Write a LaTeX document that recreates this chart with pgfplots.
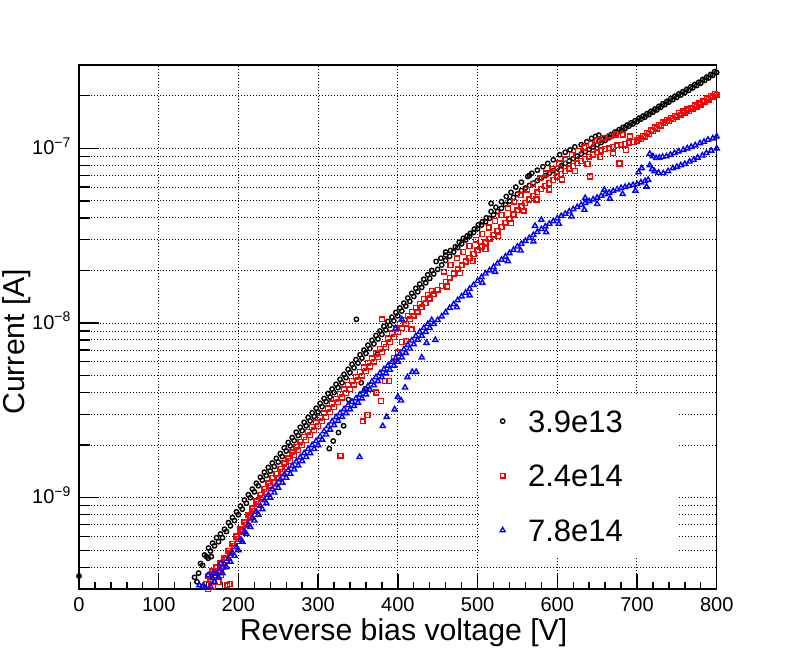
\documentclass[border=0pt]{standalone}
\usepackage{fontspec}
\setmainfont{Liberation Sans}
\usepackage{pgfplots}
\pgfplotsset{compat=1.18}
\begin{document}
\begin{tikzpicture}
\path[use as bounding box] (-39.5pt,-33pt) rectangle (359pt,294.5pt);
\begin{axis}[
  at={(0,0)}, anchor=south west,
  scale only axis, width=318.85pt, height=262pt,
  xmin=0, xmax=800, ymode=log, ymin=3e-10, ymax=3e-7,
  xtick={0,100,...,800}, minor x tick num=4,
  ytick={1e-9,1e-8,1e-7},
  yticklabels={10\textsuperscript{−9},10\textsuperscript{−8},10\textsuperscript{−7}},
  minor ytick={4e-10,5e-10,6e-10,7e-10,8e-10,9e-10,2e-9,3e-9,4e-9,5e-9,6e-9,7e-9,8e-9,9e-9,2e-8,3e-8,4e-8,5e-8,6e-8,7e-8,8e-8,9e-8,2e-7},
  tick pos=left, tick align=inside,
  major tick length=7.5pt, minor tick length=3.7pt,
  xmajorgrids, ymajorgrids, yminorgrids,
  grid style={black, line width=0.5pt, dash pattern=on 0.5pt off 1pt},
  axis line style={line width=0.7pt},
  tick style={black, line width=0.7pt},
  /pgf/number format/assume math mode=true,
  tick label style={font=\fontsize{10}{12}\selectfont},
  xticklabel style={anchor=north, inner sep=0pt, yshift=-3.85pt},
  yticklabel style={anchor=base east, inner sep=0pt, xshift=-3.6pt, yshift=-3pt},
  xlabel={Reverse bias voltage [V]}, ylabel={Current [A]},
  label style={font=\fontsize{15.1}{18}\selectfont},
  xlabel style={at={(axis description cs:0.509,-0.0973)}, anchor=base},
  ylabel style={at={(axis description cs:-0.0856,0.472)}, anchor=base},
  legend cell align=left,
  legend image code/.code={\draw[#1] plot coordinates {(0pt,0pt)};},
  legend style={at={(axis description cs:0.6285,0.3721)}, anchor=north west,
    draw=none, fill=white, font=\fontsize{15.5}{18}\selectfont,
    inner xsep=10pt, inner ysep=7.8pt, row sep=16.2pt,
    nodes={inner sep=0pt, text height=11.1pt, text depth=0pt},
    /tikz/every odd column/.append style={column sep=11.4pt}},
]
% ---------------- 3.9e13 (black circles)
\addplot[only marks, black, mark=o, mark size=1.1pt, mark options={solid, line width=0.7pt}] coordinates {
(150,3.7e-10)(155,4.1e-10)(160,4.6e-10)(165,4.95e-10)(170,5.3e-10)(175,5.6e-10)(180,5.9e-10)(185,6.4e-10)(190,6.9e-10)(195,7.4e-10)
(200,8.0e-10)(205,8.6e-10)(210,9.3e-10)(215,1.0e-9)(220,1.08e-9)(225,1.17e-9)(230,1.26e-9)(235,1.34e-9)(240,1.42e-9)(245,1.51e-9)
(250,1.6e-9)(255,1.72e-9)(260,1.85e-9)(265,1.98e-9)(270,2.12e-9)(275,2.27e-9)(280,2.42e-9)(285,2.58e-9)(290,2.75e-9)(295,2.92e-9)
(300,3.1e-9)(305,3.32e-9)(310,3.55e-9)(315,3.77e-9)(320,4.0e-9)(325,4.27e-9)(330,4.55e-9)(335,4.87e-9)(340,5.2e-9)(345,5.54e-9)
(350,5.9e-9)(355,6.3e-9)(360,6.7e-9)(365,7.14e-9)(370,7.6e-9)(375,8.1e-9)(380,8.6e-9)(385,9.14e-9)(390,9.7e-9)(395,1.03e-8)
(400,1.1e-8)(405,1.17e-8)(410,1.25e-8)(415,1.33e-8)(420,1.42e-8)(425,1.51e-8)(430,1.6e-8)(435,1.7e-8)(440,1.8e-8)(445,1.91e-8)
(450,2.03e-8)(455,2.15e-8)(460,2.28e-8)(465,2.41e-8)(470,2.55e-8)(475,2.7e-8)(480,2.84e-8)(485,2.99e-8)(490,3.14e-8)(495,3.3e-8)
(500,3.47e-8)(505,3.64e-8)(510,3.8e-8)(515,3.98e-8)(520,4.16e-8)(525,4.35e-8)(530,4.54e-8)(535,4.76e-8)(540,4.99e-8)(545,5.23e-8)
(550,5.48e-8)(555,5.74e-8)(560,5.93e-8)(565,6.13e-8)(570,6.33e-8)(575,6.54e-8)(580,6.76e-8)(585,6.98e-8)(590,7.2e-8)(595,7.45e-8)
(600,7.7e-8)(605,7.95e-8)(610,8.2e-8)(615,8.47e-8)(620,8.74e-8)(625,9.02e-8)(630,9.29e-8)(635,9.58e-8)(640,9.87e-8)(645,1.02e-7)
(650,1.05e-7)(655,1.08e-7)(660,1.11e-7)(665,1.15e-7)(670,1.18e-7)(675,1.22e-7)(680,1.26e-7)(685,1.3e-7)(690,1.34e-7)(695,1.38e-7)
(700,1.42e-7)(705,1.47e-7)(710,1.51e-7)(715,1.56e-7)(720,1.61e-7)(725,1.66e-7)(730,1.72e-7)(735,1.78e-7)(740,1.84e-7)(745,1.9e-7)
(750,1.96e-7)(755,2.02e-7)(760,2.08e-7)(765,2.15e-7)(770,2.22e-7)(775,2.29e-7)(780,2.36e-7)(785,2.45e-7)(790,2.53e-7)(795,2.62e-7)(800,2.72e-7)
(152.5,4.2e-10)(157.5,4.7e-10)(162.5,5.15e-10)(167.5,5.5e-10)(172.5,5.9e-10)(177.5,6.2e-10)(182.5,6.6e-10)(187.5,7.2e-10)(192.5,7.7e-10)(197.5,8.3e-10)
(202.5,8.95e-10)(207.5,9.7e-10)(212.5,1.04e-9)(217.5,1.12e-9)(222.5,1.21e-9)(227.5,1.31e-9)(232.5,1.4e-9)(237.5,1.49e-9)(242.5,1.58e-9)(247.5,1.68e-9)
(252.5,1.79e-9)(257.5,1.93e-9)(262.5,2.07e-9)(267.5,2.21e-9)(272.5,2.37e-9)(277.5,2.53e-9)(282.5,2.7e-9)(287.5,2.88e-9)(292.5,3.06e-9)(297.5,3.25e-9)
(302.5,3.47e-9)(307.5,3.7e-9)(312.5,3.95e-9)(317.5,4.19e-9)(322.5,4.46e-9)(327.5,4.76e-9)(332.5,5.08e-9)(337.5,5.43e-9)(342.5,5.8e-9)(347.5,6.17e-9)
(352.5,6.58e-9)(357.5,7.0e-9)(362.5,7.47e-9)(367.5,7.96e-9)(372.5,8.48e-9)(377.5,9.0e-9)(382.5,9.58e-9)(387.5,1.02e-8)(392.5,1.08e-8)(397.5,1.15e-8)
(402.5,1.22e-8)(407.5,1.3e-8)(412.5,1.39e-8)(417.5,1.48e-8)(422.5,1.58e-8)(427.5,1.67e-8)(432.5,1.78e-8)(437.5,1.89e-8)(442.5,2.0e-8)
(448,2.25e-8)(454,2.35e-8)(460,2.45e-8)(466,2.6e-8)(472,2.73e-8)(477,2.9e-8)(482,3.05e-8)(487,3.15e-8)(491,3.26e-8)(496,3.45e-8)
(501,3.65e-8)(506,3.8e-8)(511,4.0e-8)(517,4.35e-8)(523,4.6e-8)(530,4.95e-8)(536,5.3e-8)(542,5.6e-8)(548,6.0e-8)(555,6.4e-8)
(563,6.9e-8)(568,7.2e-8)(575,7.5e-8)(582,7.85e-8)(588,8.2e-8)(595,8.6e-8)(603,9.2e-8)(610,9.5e-8)(616,9.8e-8)(622,1.02e-7)
(630,1.05e-7)(637,1.09e-7)(643,1.14e-7)(648,1.17e-7)(652,1.19e-7)
(652.5,1.1e-7)(657.5,1.13e-7)(662.5,1.16e-7)(667.5,1.2e-7)(672.5,1.24e-7)(677.5,1.28e-7)(682.5,1.32e-7)(687.5,1.36e-7)(692.5,1.4e-7)(697.5,1.44e-7)
(702.5,1.49e-7)(707.5,1.53e-7)(712.5,1.58e-7)(717.5,1.63e-7)(722.5,1.68e-7)(727.5,1.74e-7)(732.5,1.8e-7)(737.5,1.86e-7)(742.5,1.93e-7)(747.5,1.99e-7)
(752.5,2.05e-7)(757.5,2.11e-7)(762.5,2.18e-7)(767.5,2.25e-7)(772.5,2.32e-7)(777.5,2.39e-7)(782.5,2.48e-7)(787.5,2.56e-7)(792.5,2.65e-7)(797.5,2.75e-7)
(0,3.56e-10)(145,3.5e-10)(148,3.3e-10)(162,4.5e-10)(166,4.6e-10)(314,1.91e-9)(319,2.11e-9)(325.5,2.36e-9)(332,2.58e-9)(338,3.65e-9)
(354,4.55e-9)(359,4.2e-9)(374,6.6e-9)(348,1.05e-8)(517,4.84e-8)(460,2.55e-8)(565,7.0e-8)
};
\addlegendentry{\makebox[65pt][l]{3.9e13}}
% ---------------- 2.4e14 (red squares)
\addplot[only marks, red, mark=square, mark size=1.2pt, mark options={solid, line width=0.7pt}] coordinates {
(160,3.2e-10)(165,3.4e-10)(170,3.6e-10)(175,3.8e-10)(180,4.0e-10)(185,4.4e-10)(190,4.8e-10)(195,5.3e-10)
(200,5.8e-10)(205,6.4e-10)(210,7.0e-10)(215,7.7e-10)(220,8.4e-10)(225,9.2e-10)(230,1.0e-9)(235,1.08e-9)(240,1.17e-9)(245,1.23e-9)
(250,1.3e-9)(255,1.4e-9)(260,1.5e-9)(265,1.62e-9)(270,1.75e-9)(275,1.87e-9)(280,2.0e-9)(285,2.14e-9)(290,2.28e-9)(295,2.43e-9)
(300,2.58e-9)(305,2.74e-9)(310,2.9e-9)(315,3.1e-9)(320,3.3e-9)(325,3.52e-9)(330,3.75e-9)(335,3.97e-9)(340,4.2e-9)(345,4.44e-9)
(350,4.7e-9)(355,5.0e-9)(360,5.3e-9)(365,5.64e-9)(370,6.0e-9)(375,6.4e-9)(380,6.8e-9)(385,7.3e-9)(390,7.8e-9)(395,8.33e-9)
(400,8.9e-9)(405,9.39e-9)(410,9.91e-9)(415,1.05e-8)(420,1.1e-8)(425,1.16e-8)(430,1.23e-8)(435,1.3e-8)(440,1.38e-8)(445,1.46e-8)
(450,1.55e-8)(455,1.63e-8)(460,1.72e-8)(465,1.82e-8)(470,1.92e-8)(475,2.03e-8)(480,2.14e-8)(485,2.25e-8)(490,2.36e-8)(495,2.48e-8)
(500,2.61e-8)(505,2.74e-8)(510,2.89e-8)(515,3.04e-8)(520,3.2e-8)(525,3.38e-8)(530,3.55e-8)(535,3.75e-8)(540,3.96e-8)(545,4.18e-8)
(550,4.42e-8)(555,4.65e-8)(560,4.87e-8)(565,5.1e-8)(570,5.34e-8)(575,5.6e-8)(580,5.85e-8)(585,6.09e-8)(590,6.33e-8)(595,6.59e-8)
(600,6.9e-8)(605,7.15e-8)(610,7.4e-8)(615,7.67e-8)(620,7.94e-8)(625,8.22e-8)(630,8.46e-8)(635,8.71e-8)(640,8.96e-8)(645,9.22e-8)
(650,9.5e-8)(655,9.73e-8)(660,9.9e-8)(665,1.0e-7)(670,1.02e-7)(675,1.04e-7)(680,1.05e-7)(685,1.06e-7)(690,1.08e-7)(695,1.09e-7)
(700,1.11e-7)(705,1.13e-7)(710,1.17e-7)(715,1.21e-7)(720,1.26e-7)(725,1.3e-7)(730,1.35e-7)(735,1.39e-7)(740,1.43e-7)(745,1.47e-7)
(750,1.52e-7)(755,1.56e-7)(760,1.6e-7)(765,1.64e-7)(770,1.68e-7)(775,1.73e-7)(780,1.78e-7)(785,1.84e-7)(790,1.9e-7)(795,1.96e-7)(800,2.02e-7)
(162.5,3.56e-10)(167.5,3.78e-10)(172.5,4.0e-10)(177.5,4.2e-10)(182.5,4.5e-10)(187.5,4.97e-10)(192.5,5.45e-10)(197.5,6.0e-10)
(202.5,6.58e-10)(207.5,7.23e-10)(212.5,7.93e-10)(217.5,8.68e-10)(222.5,9.5e-10)(227.5,1.04e-9)(232.5,1.12e-9)(237.5,1.21e-9)(242.5,1.3e-9)(247.5,1.37e-9)
(252.5,1.46e-9)(257.5,1.57e-9)(262.5,1.68e-9)(267.5,1.82e-9)(272.5,1.95e-9)(277.5,2.09e-9)(282.5,2.23e-9)(287.5,2.39e-9)(292.5,2.54e-9)(297.5,2.7e-9)
(302.5,2.87e-9)(307.5,3.04e-9)(312.5,3.24e-9)(317.5,3.46e-9)(322.5,3.68e-9)(327.5,3.92e-9)(332.5,4.17e-9)(337.5,4.41e-9)(342.5,4.67e-9)(347.5,4.93e-9)
(352.5,5.24e-9)(357.5,5.56e-9)(362.5,5.9e-9)(367.5,6.28e-9)(372.5,6.7e-9)(377.5,7.13e-9)(382.5,7.6e-9)(387.5,8.15e-9)(392.5,8.7e-9)(397.5,9.3e-9)
(402.5,9.87e-9)(407.5,1.04e-8)(412.5,1.1e-8)(417.5,1.16e-8)(422.5,1.22e-8)(427.5,1.29e-8)(432.5,1.37e-8)(437.5,1.45e-8)(442.5,1.53e-8)
(458,1.97e-8)(466,2.15e-8)(474,2.35e-8)(482,2.55e-8)(490,2.76e-8)(498,3.0e-8)(506,3.24e-8)(514,3.52e-8)(522,3.83e-8)(530,4.15e-8)
(538,4.54e-8)(546,4.95e-8)(554,5.38e-8)(562,5.8e-8)(570,6.25e-8)(578,6.73e-8)(586,7.18e-8)(594,7.65e-8)(602,8.19e-8)(610,8.66e-8)
(618,9.16e-8)(626,9.68e-8)(634,1.01e-7)(642,1.06e-7)(650,1.11e-7)(658,1.15e-7)(666,1.18e-7)(674,1.2e-7)(682,1.2e-7)
(462,1.62e-8)(478,1.93e-8)(494,2.26e-8)(510,2.66e-8)(526,3.14e-8)(542,3.73e-8)(558,4.4e-8)(574,5.1e-8)(590,5.82e-8)(606,6.62e-8)
(622,7.4e-8)(638,8.15e-8)(654,8.92e-8)(670,9.38e-8)(686,9.8e-8)
(702.5,1.15e-7)(707.5,1.18e-7)(712.5,1.23e-7)(717.5,1.27e-7)(722.5,1.32e-7)(727.5,1.36e-7)(732.5,1.41e-7)(737.5,1.45e-7)(742.5,1.49e-7)(747.5,1.54e-7)
(752.5,1.59e-7)(757.5,1.63e-7)(762.5,1.67e-7)(767.5,1.71e-7)(772.5,1.76e-7)(777.5,1.81e-7)(782.5,1.86e-7)(787.5,1.93e-7)(792.5,1.99e-7)(797.5,2.05e-7)
(328,1.74e-9)(356,2.74e-9)(362,2.97e-9)(373,4.0e-9)(379,3.58e-9)(384,4.65e-9)(389,4.65e-9)(395,6.3e-9)(400,6.8e-9)(405,7.8e-9)
(410,7.9e-9)(417,9.2e-9)(380,1.05e-8)(641,6.9e-8)(678,8.2e-8)(691,1.17e-7)
(162,3.0e-10)(168,3.1e-10)(175,3.3e-10)(178,3.6e-10)(186,3.15e-10)(189,3.2e-10)
};
\addlegendentry{2.4e14}
% ---------------- 7.8e14 (blue triangles)
\addplot[only marks, blue, mark=triangle, mark size=1.45pt, mark options={solid, line width=0.7pt}] coordinates {
(165,3.1e-10)(170,3.3e-10)(175,3.5e-10)(180,3.7e-10)(185,4.0e-10)(190,4.3e-10)(195,4.65e-10)
(200,5.0e-10)(205,5.6e-10)(210,6.2e-10)(215,6.8e-10)(220,7.4e-10)(225,8.0e-10)(230,8.6e-10)(235,9.3e-10)(240,1.0e-9)(245,1.07e-9)
(250,1.14e-9)(255,1.22e-9)(260,1.3e-9)(265,1.37e-9)(270,1.45e-9)(275,1.53e-9)(280,1.62e-9)(285,1.71e-9)(290,1.8e-9)(295,1.9e-9)
(300,2.0e-9)(305,2.15e-9)(310,2.3e-9)(315,2.45e-9)(320,2.6e-9)(325,2.75e-9)(330,2.9e-9)(335,3.05e-9)(340,3.2e-9)(345,3.35e-9)
(350,3.5e-9)(355,3.7e-9)(360,3.9e-9)(365,4.15e-9)(370,4.4e-9)(375,4.65e-9)(380,4.9e-9)(385,5.15e-9)(390,5.4e-9)(395,5.7e-9)
(400,6.0e-9)(405,6.36e-9)(410,6.74e-9)(415,7.14e-9)(420,7.56e-9)(425,8.01e-9)(430,8.45e-9)(435,8.9e-9)(440,9.36e-9)(445,9.86e-9)
(450,1.04e-8)(455,1.09e-8)(460,1.15e-8)(465,1.22e-8)(470,1.28e-8)(475,1.35e-8)(480,1.42e-8)(485,1.49e-8)(490,1.57e-8)(495,1.65e-8)
(500,1.74e-8)(505,1.83e-8)(510,1.92e-8)(515,2.0e-8)(520,2.09e-8)(525,2.19e-8)(530,2.3e-8)(535,2.4e-8)(540,2.51e-8)(545,2.62e-8)
(550,2.74e-8)(555,2.84e-8)(560,2.95e-8)(565,3.07e-8)(570,3.19e-8)(575,3.32e-8)(580,3.45e-8)(585,3.57e-8)(590,3.7e-8)(595,3.83e-8)
(600,3.97e-8)(605,4.1e-8)(610,4.22e-8)(615,4.35e-8)(620,4.48e-8)(625,4.61e-8)(630,4.75e-8)(635,4.86e-8)(640,4.98e-8)(645,5.1e-8)
(650,5.22e-8)(655,5.35e-8)(660,5.46e-8)(665,5.58e-8)(670,5.7e-8)(675,5.82e-8)(680,5.93e-8)(685,6.01e-8)(690,6.09e-8)(695,6.17e-8)
(700,6.25e-8)(705,6.38e-8)(710,6.5e-8)(714,6.6e-8)
(167.5,3.46e-10)(172.5,3.67e-10)(177.5,3.89e-10)(182.5,4.16e-10)(187.5,4.48e-10)(192.5,4.83e-10)(197.5,5.2e-10)
(202.5,5.72e-10)(207.5,6.37e-10)(212.5,7.02e-10)(217.5,7.67e-10)(222.5,8.3e-10)(227.5,8.96e-10)(232.5,9.66e-10)(237.5,1.04e-9)(242.5,1.12e-9)(247.5,1.19e-9)
(252.5,1.27e-9)(257.5,1.36e-9)(262.5,1.44e-9)(267.5,1.52e-9)(272.5,1.61e-9)(277.5,1.7e-9)(282.5,1.8e-9)(287.5,1.9e-9)(292.5,2.0e-9)(297.5,2.11e-9)
(302.5,2.24e-9)(307.5,2.4e-9)(312.5,2.57e-9)(317.5,2.73e-9)(322.5,2.89e-9)(327.5,3.05e-9)(332.5,3.21e-9)(337.5,3.38e-9)(342.5,3.54e-9)(347.5,3.7e-9)
(352.5,3.89e-9)(357.5,4.1e-9)(362.5,4.35e-9)(367.5,4.62e-9)(372.5,4.89e-9)(377.5,5.16e-9)(382.5,5.43e-9)(387.5,5.7e-9)(392.5,6.0e-9)(397.5,6.32e-9)
(402.5,6.67e-9)(407.5,7.07e-9)(412.5,7.5e-9)(417.5,7.94e-9)(422.5,8.41e-9)(427.5,8.89e-9)(432.5,9.37e-9)(437.5,9.86e-9)(442.5,1.04e-8)
(474,1.23e-8)(490,1.44e-8)(506,1.7e-8)(522,1.96e-8)(538,2.26e-8)(554,2.6e-8)(570,2.93e-8)(586,3.31e-8)(602,3.7e-8)(618,4.08e-8)
(634,4.45e-8)(650,4.8e-8)(666,5.15e-8)(682,5.48e-8)(698,5.72e-8)(712,6.03e-8)
(716,9.3e-8)(720,9.0e-8)(724,8.8e-8)(728,8.85e-8)(732,8.95e-8)(737,9.0e-8)(742,9.2e-8)(747,9.4e-8)(752,9.6e-8)(758,9.8e-8)
(763,1.0e-7)(768,1.02e-7)(773,1.04e-7)(779,1.07e-7)(784,1.09e-7)(789,1.12e-7)(795,1.14e-7)(800,1.17e-7)
(716,8.0e-8)(719,7.6e-8)(722,7.4e-8)(727,7.25e-8)(733,7.2e-8)(739,7.4e-8)(745,7.7e-8)(750,7.85e-8)(755,8.0e-8)(760,8.15e-8)
(766,8.4e-8)(771,8.6e-8)(776,8.85e-8)(782,9.1e-8)(787,9.4e-8)(793,9.7e-8)(800,1.0e-7)
(352,1.71e-9)(381,2.57e-9)(386,2.9e-9)(396,3.2e-9)(400,3.78e-9)(404,3.6e-9)(409,4.27e-9)(412,4.9e-9)(418,5.25e-9)(423,5.25e-9)
(430,6.35e-9)(436,7.7e-9)(447,8.0e-9)(397,9.3e-9)(405,1.05e-8)(572,3.6e-8)(580,3.9e-8)(635,5.2e-8)(659,5.8e-8)(702,7.3e-8)(706,7.7e-8)
(151,3.15e-10)(155,3.1e-10)(158,3.05e-10)(162,3.6e-10)(168,3.7e-10)(178,4.2e-10)
};
\addlegendentry{7.8e14}
\end{axis}
% longer y ticks (ROOT draws y ticks longer than x ticks)
\begin{axis}[
  at={(0,0)}, anchor=south west,
  scale only axis, width=318.85pt, height=262pt,
  xmin=0, xmax=800, ymode=log, ymin=3e-10, ymax=3e-7,
  hide x axis, axis y line*=left,
  y axis line style={-, line width=0.7pt},
  ytick={1e-9,1e-8,1e-7}, yticklabels={},
  minor ytick={4e-10,5e-10,6e-10,7e-10,8e-10,9e-10,2e-9,3e-9,4e-9,5e-9,6e-9,7e-9,8e-9,9e-9,2e-8,3e-8,4e-8,5e-8,6e-8,7e-8,8e-8,9e-8,2e-7},
  tick align=inside, major tick length=10pt, minor tick length=5.5pt,
  tick style={black, line width=0.7pt},
]
\end{axis}
\end{tikzpicture}
\end{document}
